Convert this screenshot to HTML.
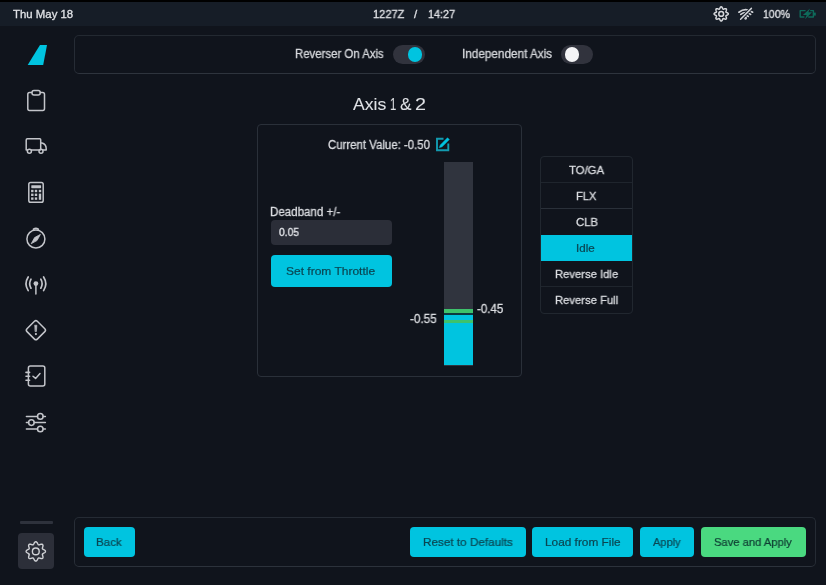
<!DOCTYPE html>
<html><head><meta charset="utf-8">
<style>
*{margin:0;padding:0;box-sizing:border-box}
html,body{width:826px;height:585px;overflow:hidden;background:#10141c;font-family:"Liberation Sans",sans-serif;color:#d4d6da}
.a{position:absolute}
.t{position:absolute;white-space:nowrap;line-height:1;will-change:transform}
.panel{position:absolute;border:1px solid #2a3039;border-radius:5px}
.tog{position:absolute;width:32px;height:19px;border-radius:10px;background:#31333d}
.knob{position:absolute;width:14.6px;height:14.6px;border-radius:50%;top:2.2px}
.btn{position:absolute;border-radius:4px;background:#00c4e0}
.rl{position:absolute;left:540px;width:93px;height:1px;background:#262c35}
#ov{position:absolute;left:0;top:0;width:826px;height:585px}
</style></head><body>
<div class="a" style="left:0;top:0;width:826px;height:2px;background:#000"></div>
<div class="a" style="left:0;top:2px;width:826px;height:24px;background:#161d27"></div>
<div class="panel" style="left:74px;top:35px;width:742px;height:39px;border-color:#232931 #252b34 #2e343d #262c35"></div>
<div class="tog" style="left:393px;top:45px"><div class="knob" style="left:14.5px;background:#00c4e0"></div></div>
<div class="tog" style="left:561px;top:45px"><div class="knob" style="left:3.6px;background:#f4f4f6"></div></div>
<div class="panel" style="left:257px;top:124px;width:265px;height:253px;border-radius:4px"></div>
<div class="a" style="left:271px;top:220px;width:121px;height:25px;background:#2b2e38;border-radius:4px"></div>
<div class="btn" style="left:271px;top:255px;width:121px;height:32px"></div>
<div class="a" style="left:444px;top:162px;width:29px;height:204px;background:#30343e"></div>
<div class="a" style="left:444px;top:312px;width:29px;height:3px;background:#0c3a40"></div>
<div class="a" style="left:444px;top:315px;width:29px;height:50px;background:#00c4e0"></div>
<div class="a" style="left:444px;top:309px;width:29px;height:3.6px;background:#3ec26c"></div>
<div class="a" style="left:444px;top:319.6px;width:29px;height:3.4px;background:#3ec26c"></div>
<div class="panel" style="left:540px;top:156px;width:93px;height:158px;border-radius:4px;border-color:#21272f"></div>
<div class="rl" style="top:182px;left:541px;width:91px;background:#1f252d"></div>
<div class="rl" style="top:208px;left:541px;width:91px;background:#2a3039"></div>
<div class="rl" style="top:286px;left:541px;width:91px;background:#1f252d"></div>
<div class="a" style="left:541px;top:235px;width:91px;height:26px;background:#00c4e0"></div>
<div class="panel" style="left:74px;top:517px;width:742px;height:50px;border-color:#252b34 #252b34 #2c323b #282e37"></div>
<div class="btn" style="left:84px;top:527px;width:51px;height:30px"></div>
<div class="btn" style="left:410px;top:527px;width:116px;height:30px"></div>
<div class="btn" style="left:532px;top:527px;width:101px;height:30px"></div>
<div class="btn" style="left:640px;top:527px;width:54px;height:30px"></div>
<div class="btn" style="left:701px;top:527px;width:105px;height:30px;background:#4ad980"></div>
<div class="a" style="left:20px;top:521px;width:33px;height:3px;background:#2e323c;border-radius:1px"></div>
<div class="a" style="left:18px;top:533px;width:36px;height:36px;background:#2c2f39;border-radius:4px"></div>
<div class="t" id="t0" style="left:13.19px;top:8.85px;font-size:11.40px;transform:scaleX(1.0011);transform-origin:0 0;color:#e0e2e6;-webkit-text-stroke:0.30px #e0e2e6">Thu May 18</div>
<div class="t" id="t1" style="left:372.76px;top:8.85px;font-size:11.40px;transform:scaleX(0.9733);transform-origin:0 0;color:#e0e2e6;-webkit-text-stroke:0.30px #e0e2e6">1227Z</div>
<div class="t" id="t2" style="left:414.00px;top:8.85px;font-size:11.40px;transform:scaleX(1.0000);transform-origin:0 0;color:#e0e2e6;-webkit-text-stroke:0.30px #e0e2e6">/</div>
<div class="t" id="t3" style="left:428.24px;top:8.85px;font-size:11.40px;transform:scaleX(0.9498);transform-origin:0 0;color:#e0e2e6;-webkit-text-stroke:0.30px #e0e2e6">14:27</div>
<div class="t" id="t4" style="left:762.62px;top:8.85px;font-size:11.40px;transform:scaleX(0.9259);transform-origin:0 0;color:#e0e2e6;-webkit-text-stroke:0.30px #e0e2e6">100%</div>
<div class="t" id="t5" style="left:294.91px;top:47.84px;font-size:12.00px;transform:scaleX(0.9501);transform-origin:0 0;color:#d6d8dc;-webkit-text-stroke:0.30px #d6d8dc">Reverser On Axis</div>
<div class="t" id="t6" style="left:462.29px;top:47.74px;font-size:12.00px;transform:scaleX(0.9783);transform-origin:0 0;color:#d6d8dc;-webkit-text-stroke:0.30px #d6d8dc">Independent Axis</div>
<div class="t" id="t7" style="left:353.19px;top:96.04px;font-size:17.20px;transform:scaleX(1.0257);transform-origin:0 0;color:#dfe1e5;-webkit-text-stroke:0.05px #dfe1e5">Axis</div>
<div class="t" id="t8" style="left:389.75px;top:96.04px;font-size:17.20px;transform:scaleX(0.6500);transform-origin:0 0;color:#dfe1e5;-webkit-text-stroke:0.05px #dfe1e5">1</div>
<div class="t" id="t9" style="left:400.30px;top:96.04px;font-size:17.20px;transform:scaleX(1.0000);transform-origin:0 0;color:#dfe1e5;-webkit-text-stroke:0.05px #dfe1e5">&amp;</div>
<div class="t" id="t10" style="left:415.00px;top:96.04px;font-size:17.20px;transform:scaleX(1.1500);transform-origin:0 0;color:#dfe1e5;-webkit-text-stroke:0.05px #dfe1e5">2</div>
<div class="t" id="t11" style="left:328.38px;top:138.64px;font-size:12.00px;transform:scaleX(0.9514);transform-origin:0 0;color:#dcdee2;-webkit-text-stroke:0.30px #dcdee2">Current Value: -0.50</div>
<div class="t" id="t12" style="left:270.15px;top:206.24px;font-size:12.00px;transform:scaleX(0.9625);transform-origin:0 0;color:#dcdee2;-webkit-text-stroke:0.30px #dcdee2">Deadband +/-</div>
<div class="t" id="t13" style="left:279.00px;top:227.31px;font-size:10.50px;transform:scaleX(0.9815);transform-origin:0 0;color:#e4e6ea;-webkit-text-stroke:0.30px #e4e6ea">0.05</div>
<div class="t" id="t14" style="left:286.24px;top:265.48px;font-size:11.60px;transform:scaleX(1.0343);transform-origin:0 0;color:#0a4652;-webkit-text-stroke:0.22px #0a4652">Set from Throttle</div>
<div class="t" id="t15" style="left:409.81px;top:313.04px;font-size:12.00px;transform:scaleX(0.9744);transform-origin:0 0;color:#dcdee2;-webkit-text-stroke:0.30px #dcdee2">-0.55</div>
<div class="t" id="t16" style="left:477.43px;top:302.84px;font-size:12.00px;transform:scaleX(0.9582);transform-origin:0 0;color:#dcdee2;-webkit-text-stroke:0.30px #dcdee2">-0.45</div>
<div class="t" id="t17" style="left:569.00px;top:163.78px;font-size:11.60px;transform:scaleX(0.9778);transform-origin:0 0;color:#dcdee2;-webkit-text-stroke:0.30px #dcdee2">TO/GA</div>
<div class="t" id="t18" style="left:575.91px;top:189.78px;font-size:11.60px;transform:scaleX(0.9606);transform-origin:0 0;color:#dcdee2;-webkit-text-stroke:0.30px #dcdee2">FLX</div>
<div class="t" id="t19" style="left:575.81px;top:216.18px;font-size:11.60px;transform:scaleX(0.9780);transform-origin:0 0;color:#dcdee2;-webkit-text-stroke:0.30px #dcdee2">CLB</div>
<div class="t" id="t20" style="left:576.34px;top:242.18px;font-size:11.60px;transform:scaleX(0.9738);transform-origin:0 0;color:#0a4652;-webkit-text-stroke:0.22px #0a4652">Idle</div>
<div class="t" id="t21" style="left:555.17px;top:268.18px;font-size:11.60px;transform:scaleX(0.9706);transform-origin:0 0;color:#dcdee2;-webkit-text-stroke:0.30px #dcdee2">Reverse Idle</div>
<div class="t" id="t22" style="left:555.17px;top:294.48px;font-size:11.60px;transform:scaleX(0.9706);transform-origin:0 0;color:#dcdee2;-webkit-text-stroke:0.30px #dcdee2">Reverse Full</div>
<div class="t" id="t23" style="left:96.48px;top:536.91px;font-size:11.80px;transform:scaleX(0.9803);transform-origin:0 0;color:#0a4652;-webkit-text-stroke:0.22px #0a4652">Back</div>
<div class="t" id="t24" style="left:422.72px;top:536.91px;font-size:11.80px;transform:scaleX(0.9931);transform-origin:0 0;color:#0a4652;-webkit-text-stroke:0.22px #0a4652">Reset to Defaults</div>
<div class="t" id="t25" style="left:544.67px;top:536.91px;font-size:11.80px;transform:scaleX(1.0026);transform-origin:0 0;color:#0a4652;-webkit-text-stroke:0.22px #0a4652">Load from File</div>
<div class="t" id="t26" style="left:653.00px;top:536.91px;font-size:11.80px;transform:scaleX(0.9389);transform-origin:0 0;color:#0a4652;-webkit-text-stroke:0.22px #0a4652">Apply</div>
<div class="t" id="t27" style="left:714.38px;top:536.91px;font-size:11.80px;transform:scaleX(0.9494);transform-origin:0 0;color:#0f3d33;-webkit-text-stroke:0.22px #0f3d33">Save and Apply</div>
<svg id="ov" viewBox="0 0 826 585" fill="none" stroke="#c3c5ca" stroke-width="1.5" stroke-linecap="round" stroke-linejoin="round">
  <!-- logo -->
  <path d="M40 45 L47 45 L43.2 65 L27.7 65 Q35 53 40 45 Z" fill="#00c4e0" stroke="none"/>
  <!-- clipboard -->
  <path d="M31.5 92.5 H29.5 Q27.8 92.5 27.8 94.5 V108.5 Q27.8 110.5 29.5 110.5 H42.8 Q44.5 110.5 44.5 108.5 V94.5 Q44.5 92.5 42.8 92.5 H40.5"/>
  <rect x="32" y="90.5" width="8.2" height="4.5" rx="2"/>
  <!-- truck -->
  <path d="M26.2 150 V140 Q26.2 138.8 27.4 138.8 H39.8 Q40.7 138.8 40.7 139.8 V150 M40.7 143 H42 Q46.2 144 46.2 148.8 V150 H43.2 M39 150 H31.5 M27.4 150 H26.2"/>
  <circle cx="29.4" cy="151.2" r="2"/>
  <circle cx="41" cy="151.2" r="2"/>
  <!-- calculator -->
  <rect x="28.8" y="182.4" width="14.4" height="19.8" rx="1.8"/>
  <rect x="31.3" y="185.2" width="9.8" height="3" rx="0.4" fill="#c3c5ca" stroke="none"/>
  <g fill="#c3c5ca" stroke="none"><rect x="31.1" y="189.8" width="2.4" height="2.4"/><rect x="34.8" y="189.8" width="2.4" height="2.4"/><rect x="38.8" y="189.8" width="2.4" height="2.4"/><rect x="31.1" y="193.6" width="2.4" height="2.4"/><rect x="34.8" y="193.6" width="2.4" height="2.4"/><rect x="38.8" y="193.6" width="2.4" height="6.2"/><rect x="31.1" y="197.4" width="2.4" height="2.4"/><rect x="34.8" y="197.4" width="2.4" height="2.4"/></g>
  <!-- compass -->
  <circle cx="35.9" cy="239" r="9"/>
  <path d="M33.5 229.2 Q35.9 227.6 38.3 229.2" stroke-width="1.8"/>
  <path d="M31.4 243.4 L34.6 237.6 L40.4 234.4 L37.2 240.2 Z" fill="#c3c5ca" stroke-width="0.8"/>
  <!-- antenna -->
  <circle cx="35.9" cy="283.6" r="2.4" fill="#c3c5ca" stroke="none"/>
  <path d="M35.9 285.5 V294"/>
  <path d="M31 279.2 Q28.4 283.8 31 288.2" stroke-width="1.7"/>
  <path d="M40.8 279.2 Q43.4 283.8 40.8 288.2" stroke-width="1.7"/>
  <path d="M28.2 277 Q23.8 283.8 28.2 290.6" stroke-width="1.7"/>
  <path d="M43.6 277 Q48 283.8 43.6 290.6" stroke-width="1.7"/>
  <!-- warning diamond -->
  <rect x="28.6" y="322.9" width="14.6" height="14.6" rx="2" transform="rotate(45 35.9 330.2)"/>
  <path d="M34.9 325.2 L36.9 325.2 L36.4 331.6 L35.4 331.6 Z" fill="#c3c5ca" stroke-width="0.6"/>
  <circle cx="35.9" cy="334.1" r="1.1" fill="#c3c5ca" stroke="none"/>
  <!-- checklist -->
  <rect x="28.4" y="366" width="16.4" height="20" rx="2"/>
  
  <path d="M26 372.4 H29.6 M26 376.2 H29.6 M26 380.2 H29.6" stroke-width="1.6"/>
  <path d="M33 376.2 L35.6 378.4 L40 373.6"/>
  <!-- sliders -->
  <path d="M26.4 416.4 H37.5 M43.2 416.4 H45.4"/>
  <circle cx="40.3" cy="416.4" r="2.8"/>
  <path d="M26.4 422.6 H28.6 M34.2 422.6 H45.4"/>
  <circle cx="31.4" cy="422.6" r="2.8"/>
  <path d="M26.4 429 H37.5 M43.2 429 H45.4"/>
  <circle cx="40.3" cy="429" r="2.8"/>
  <!-- bottom gear -->
  <path d="M35.80 541.75 L36.10 541.79 L36.40 541.92 L36.68 542.13 L36.94 542.40 L37.17 542.72 L37.39 543.07 L37.58 543.43 L37.76 543.78 L37.92 544.10 L38.08 544.37 L38.25 544.59 L38.44 544.74 L38.64 544.83 L38.88 544.85 L39.15 544.82 L39.46 544.74 L39.81 544.63 L40.18 544.51 L40.57 544.39 L40.96 544.29 L41.36 544.23 L41.74 544.23 L42.08 544.28 L42.38 544.39 L42.62 544.58 L42.81 544.82 L42.92 545.12 L42.97 545.46 L42.97 545.84 L42.91 546.24 L42.81 546.63 L42.69 547.02 L42.57 547.39 L42.46 547.74 L42.38 548.05 L42.35 548.32 L42.37 548.56 L42.46 548.76 L42.61 548.95 L42.83 549.12 L43.10 549.28 L43.42 549.44 L43.77 549.62 L44.13 549.81 L44.48 550.03 L44.80 550.26 L45.07 550.52 L45.28 550.80 L45.41 551.10 L45.45 551.40 L45.41 551.70 L45.28 552.00 L45.07 552.28 L44.80 552.54 L44.48 552.77 L44.13 552.99 L43.77 553.18 L43.42 553.36 L43.10 553.52 L42.83 553.68 L42.61 553.85 L42.46 554.04 L42.37 554.24 L42.35 554.48 L42.38 554.75 L42.46 555.06 L42.57 555.41 L42.69 555.78 L42.81 556.17 L42.91 556.56 L42.97 556.96 L42.97 557.34 L42.92 557.68 L42.81 557.98 L42.62 558.22 L42.38 558.41 L42.08 558.52 L41.74 558.57 L41.36 558.57 L40.96 558.51 L40.57 558.41 L40.18 558.29 L39.81 558.17 L39.46 558.06 L39.15 557.98 L38.88 557.95 L38.64 557.97 L38.44 558.06 L38.25 558.21 L38.08 558.43 L37.92 558.70 L37.76 559.02 L37.58 559.37 L37.39 559.73 L37.17 560.08 L36.94 560.40 L36.68 560.67 L36.40 560.88 L36.10 561.01 L35.80 561.05 L35.50 561.01 L35.20 560.88 L34.92 560.67 L34.66 560.40 L34.43 560.08 L34.21 559.73 L34.02 559.37 L33.84 559.02 L33.68 558.70 L33.52 558.43 L33.35 558.21 L33.16 558.06 L32.96 557.97 L32.72 557.95 L32.45 557.98 L32.14 558.06 L31.79 558.17 L31.42 558.29 L31.03 558.41 L30.64 558.51 L30.24 558.57 L29.86 558.57 L29.52 558.52 L29.22 558.41 L28.98 558.22 L28.79 557.98 L28.68 557.68 L28.63 557.34 L28.63 556.96 L28.69 556.56 L28.79 556.17 L28.91 555.78 L29.03 555.41 L29.14 555.06 L29.22 554.75 L29.25 554.48 L29.23 554.24 L29.14 554.04 L28.99 553.85 L28.77 553.68 L28.50 553.52 L28.18 553.36 L27.83 553.18 L27.47 552.99 L27.12 552.77 L26.80 552.54 L26.53 552.28 L26.32 552.00 L26.19 551.70 L26.15 551.40 L26.19 551.10 L26.32 550.80 L26.53 550.52 L26.80 550.26 L27.12 550.03 L27.47 549.81 L27.83 549.62 L28.18 549.44 L28.50 549.28 L28.77 549.12 L28.99 548.95 L29.14 548.76 L29.23 548.56 L29.25 548.32 L29.22 548.05 L29.14 547.74 L29.03 547.39 L28.91 547.02 L28.79 546.63 L28.69 546.24 L28.63 545.84 L28.63 545.46 L28.68 545.12 L28.79 544.82 L28.98 544.58 L29.22 544.39 L29.52 544.28 L29.86 544.23 L30.24 544.23 L30.64 544.29 L31.03 544.39 L31.42 544.51 L31.79 544.63 L32.14 544.74 L32.45 544.82 L32.72 544.85 L32.96 544.83 L33.16 544.74 L33.35 544.59 L33.52 544.37 L33.68 544.10 L33.84 543.78 L34.02 543.43 L34.21 543.07 L34.43 542.72 L34.66 542.40 L34.92 542.13 L35.20 541.92 L35.50 541.79 Z" stroke="#d0d2d6" stroke-width="1.4"/>
  <circle cx="35.8" cy="551.4" r="3.4" stroke="#d0d2d6" stroke-width="1.4"/>
  <path d="M721.20 6.80 L721.42 6.83 L721.64 6.94 L721.84 7.10 L722.03 7.32 L722.20 7.57 L722.35 7.85 L722.49 8.13 L722.61 8.40 L722.72 8.65 L722.84 8.87 L722.95 9.04 L723.08 9.15 L723.23 9.21 L723.40 9.22 L723.60 9.19 L723.83 9.11 L724.09 9.02 L724.37 8.91 L724.66 8.80 L724.97 8.71 L725.27 8.66 L725.55 8.64 L725.81 8.67 L726.04 8.75 L726.22 8.88 L726.35 9.06 L726.43 9.29 L726.46 9.55 L726.44 9.83 L726.39 10.13 L726.30 10.44 L726.19 10.73 L726.08 11.01 L725.99 11.27 L725.91 11.50 L725.88 11.70 L725.89 11.87 L725.95 12.02 L726.06 12.15 L726.23 12.26 L726.45 12.38 L726.70 12.49 L726.97 12.61 L727.25 12.75 L727.53 12.90 L727.78 13.07 L728.00 13.26 L728.16 13.46 L728.27 13.68 L728.30 13.90 L728.27 14.12 L728.16 14.34 L728.00 14.54 L727.78 14.73 L727.53 14.90 L727.25 15.05 L726.97 15.19 L726.70 15.31 L726.45 15.42 L726.23 15.54 L726.06 15.65 L725.95 15.78 L725.89 15.93 L725.88 16.10 L725.91 16.30 L725.99 16.53 L726.08 16.79 L726.19 17.07 L726.30 17.36 L726.39 17.67 L726.44 17.97 L726.46 18.25 L726.43 18.51 L726.35 18.74 L726.22 18.92 L726.04 19.05 L725.81 19.13 L725.55 19.16 L725.27 19.14 L724.97 19.09 L724.66 19.00 L724.37 18.89 L724.09 18.78 L723.83 18.69 L723.60 18.61 L723.40 18.58 L723.23 18.59 L723.08 18.65 L722.95 18.76 L722.84 18.93 L722.72 19.15 L722.61 19.40 L722.49 19.67 L722.35 19.95 L722.20 20.23 L722.03 20.48 L721.84 20.70 L721.64 20.86 L721.42 20.97 L721.20 21.00 L720.98 20.97 L720.76 20.86 L720.56 20.70 L720.37 20.48 L720.20 20.23 L720.05 19.95 L719.91 19.67 L719.79 19.40 L719.68 19.15 L719.56 18.93 L719.45 18.76 L719.32 18.65 L719.17 18.59 L719.00 18.58 L718.80 18.61 L718.57 18.69 L718.31 18.78 L718.03 18.89 L717.74 19.00 L717.43 19.09 L717.13 19.14 L716.85 19.16 L716.59 19.13 L716.36 19.05 L716.18 18.92 L716.05 18.74 L715.97 18.51 L715.94 18.25 L715.96 17.97 L716.01 17.67 L716.10 17.36 L716.21 17.07 L716.32 16.79 L716.41 16.53 L716.49 16.30 L716.52 16.10 L716.51 15.93 L716.45 15.78 L716.34 15.65 L716.17 15.54 L715.95 15.42 L715.70 15.31 L715.43 15.19 L715.15 15.05 L714.87 14.90 L714.62 14.73 L714.40 14.54 L714.24 14.34 L714.13 14.12 L714.10 13.90 L714.13 13.68 L714.24 13.46 L714.40 13.26 L714.62 13.07 L714.87 12.90 L715.15 12.75 L715.43 12.61 L715.70 12.49 L715.95 12.38 L716.17 12.26 L716.34 12.15 L716.45 12.02 L716.51 11.87 L716.52 11.70 L716.49 11.50 L716.41 11.27 L716.32 11.01 L716.21 10.73 L716.10 10.44 L716.01 10.13 L715.96 9.83 L715.94 9.55 L715.97 9.29 L716.05 9.06 L716.18 8.88 L716.36 8.75 L716.59 8.67 L716.85 8.64 L717.13 8.66 L717.43 8.71 L717.74 8.80 L718.03 8.91 L718.31 9.02 L718.57 9.11 L718.80 9.19 L719.00 9.22 L719.17 9.21 L719.32 9.15 L719.45 9.04 L719.56 8.87 L719.68 8.65 L719.79 8.40 L719.91 8.13 L720.05 7.85 L720.20 7.57 L720.37 7.32 L720.56 7.10 L720.76 6.94 L720.98 6.83 Z" stroke="#d6d8dc" stroke-width="1.5"/>
  <circle cx="721.2" cy="13.9" r="2.4" stroke="#d6d8dc" stroke-width="1.5"/>
  <!-- wifi off -->
  <g stroke="#cfd1d5" stroke-width="1.7">
  <path d="M738.9 12.2 Q745.6 7.2 752.6 12.2"/>
  <path d="M740.8 14.4 Q745.6 10.6 750.6 14.4"/>
  <path d="M743.2 16.4 Q745.6 14.4 748.2 16.4"/>
  <circle cx="745.6" cy="18.2" r="0.6" fill="#d6d8dc"/>
  <path d="M740.6 19.2 L751.4 8.4" stroke="#161d27" stroke-width="3.4"/><path d="M740.6 19.2 L751.4 8.4" stroke-width="1.5"/>
  </g>
  <!-- battery -->
  <g fill="none" stroke="#0e6a5a" stroke-width="1.4" stroke-linecap="butt">
  <path d="M805.6 10.6 H800.2 V17 H804.4"/>
  <path d="M810.2 10.6 H813.4 V17 H808.2"/>
  <rect x="813.8" y="12.6" width="2" height="3" fill="#0e6a5a" stroke="none"/>
  <path d="M810 8.4 L802.9 15 L806.7 15 L805 19.2 L812 12.3 L808.3 12.3 Z" fill="#0e6a5a" stroke="none"/>
  </g>
  <!-- edit icon -->
  <path d="M443.5 138.8 H437 V150.2 H448.3 V143.6" stroke="#139bb0" stroke-width="1.9" stroke-linecap="butt" stroke-linejoin="miter"/>
  <path d="M439.5 147.6 L442.1 146.8 L449.3 139.6 L447.5 137.8 L440.3 145 Z" fill="#00c4e0" stroke="#00c4e0" stroke-width="0.5" stroke-linejoin="round"/>
</svg>

</body></html>
